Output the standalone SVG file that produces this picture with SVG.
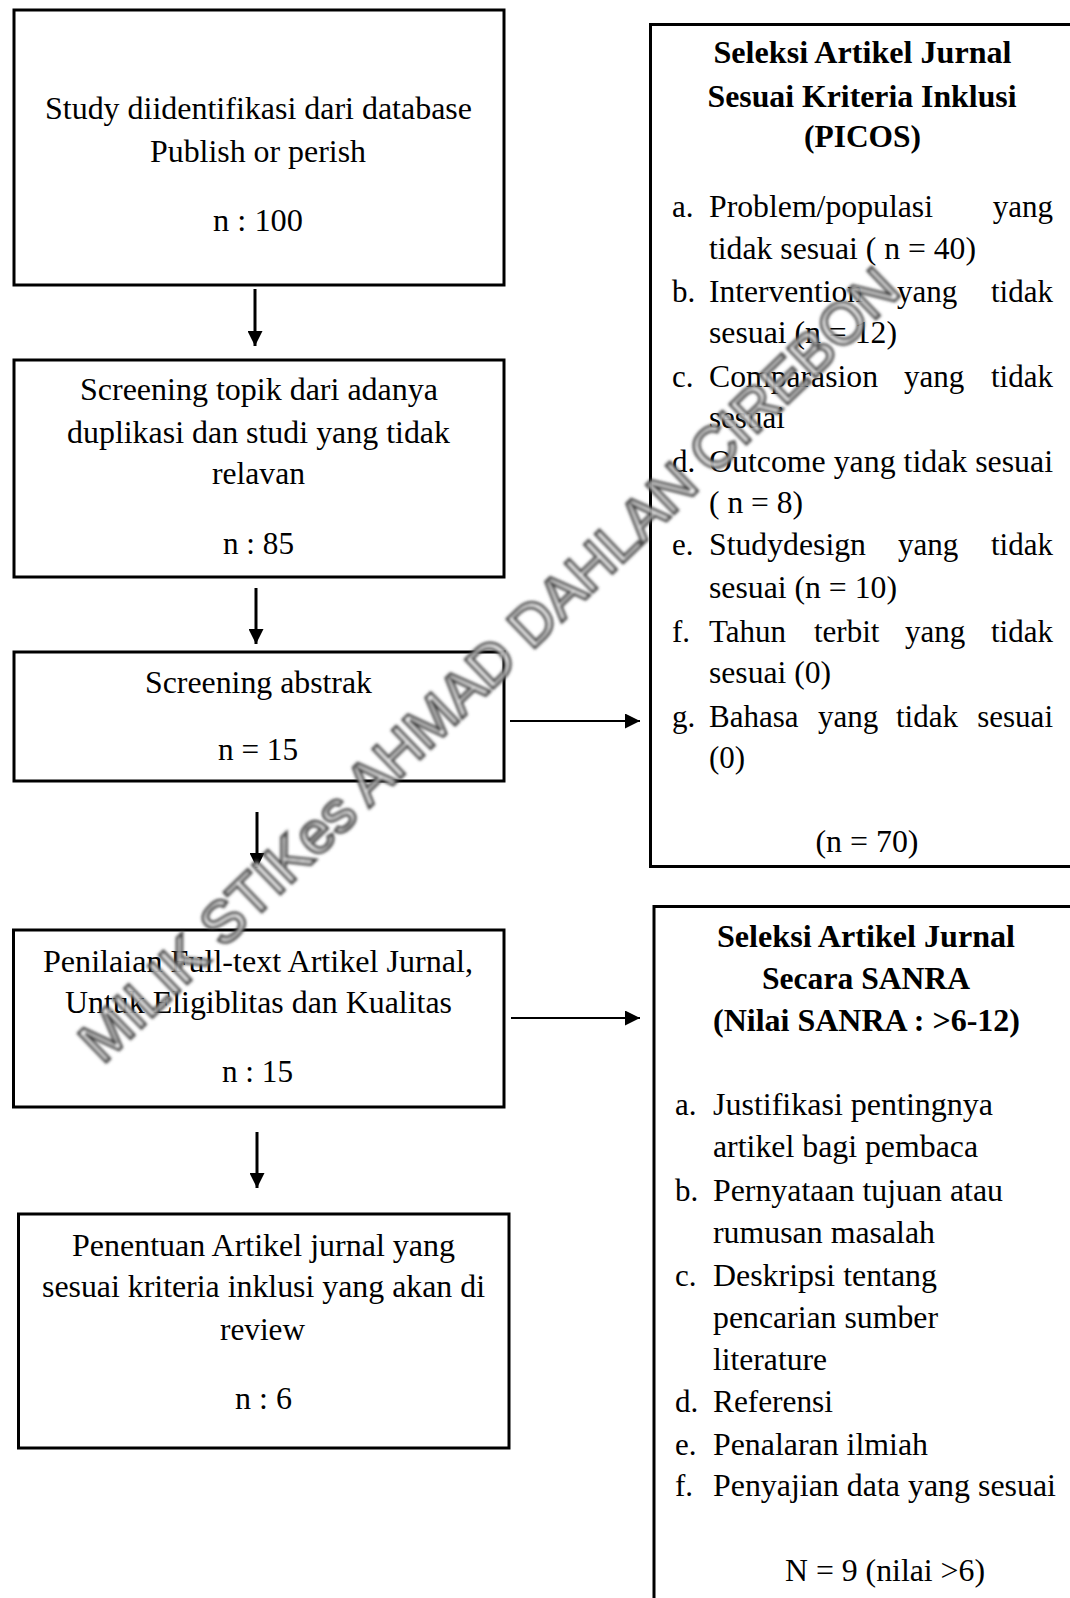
<svg xmlns="http://www.w3.org/2000/svg" width="1070" height="1598" viewBox="0 0 1070 1598">
<style>
.box{fill:#fff;stroke:#000;stroke-width:3}
.t{font-family:"Liberation Serif","Times New Roman",serif;font-size:31px;fill:#000}
.c{text-anchor:middle}
.b{font-weight:bold}
.e{text-anchor:end}
.v{stroke:#000;stroke-width:3;fill:none}
.h{stroke:#000;stroke-width:2;fill:none}
.wm{font-family:"Liberation Sans",Arial,sans-serif;font-size:58px;fill:#fff;fill-opacity:.85;stroke:#444;stroke-width:3;text-anchor:middle}
</style>
<defs>
<marker id="ah" viewBox="0 0 16 16" refX="16" refY="8" markerWidth="16" markerHeight="15" markerUnits="userSpaceOnUse" orient="auto">
<path d="M0,0 L16,8 L0,16 z" fill="#000"/>
</marker>
<filter id="blur" x="-5%" y="-5%" width="110%" height="110%"><feGaussianBlur stdDeviation="1.4"/></filter>
</defs>
<rect width="1070" height="1598" fill="#fff"/>

<g id="node-identifikasi">
<rect class="box" x="14" y="10" width="490" height="275"/>
<text class="t c" x="258.5" y="119" textLength="427" lengthAdjust="spacingAndGlyphs">Study diidentifikasi dari database</text>
<text class="t c" x="258" y="162" textLength="216" lengthAdjust="spacingAndGlyphs">Publish or perish</text>
<text class="t c" x="258" y="231" textLength="90" lengthAdjust="spacingAndGlyphs">n : 100</text>
</g>

<g id="node-screening-topik">
<rect class="box" x="14" y="360" width="490" height="217"/>
<text class="t c" x="259" y="400" textLength="358" lengthAdjust="spacingAndGlyphs">Screening topik dari adanya</text>
<text class="t c" x="258.5" y="443" textLength="383" lengthAdjust="spacingAndGlyphs">duplikasi dan studi yang tidak</text>
<text class="t c" x="258.5" y="484" textLength="93" lengthAdjust="spacingAndGlyphs">relavan</text>
<text class="t c" x="258.5" y="554" textLength="71" lengthAdjust="spacingAndGlyphs">n : 85</text>
</g>

<g id="node-screening-abstrak">
<rect class="box" x="14" y="652" width="490" height="129"/>
<text class="t c" x="258.5" y="693" textLength="227" lengthAdjust="spacingAndGlyphs">Screening abstrak</text>
<text class="t c" x="258" y="760" textLength="80" lengthAdjust="spacingAndGlyphs">n = 15</text>
</g>

<g id="node-fulltext">
<rect class="box" x="13.5" y="930" width="490.5" height="177"/>
<text class="t c" x="258" y="972" textLength="430" lengthAdjust="spacingAndGlyphs">Penilaian Full-text Artikel Jurnal,</text>
<text class="t c" x="258.5" y="1013" textLength="387" lengthAdjust="spacingAndGlyphs">Untuk Eligiblitas dan Kualitas</text>
<text class="t c" x="257.5" y="1082" textLength="71" lengthAdjust="spacingAndGlyphs">n : 15</text>
</g>

<g id="node-penentuan">
<rect class="box" x="18.5" y="1214" width="490.5" height="234"/>
<text class="t c" x="263.5" y="1256" textLength="383" lengthAdjust="spacingAndGlyphs">Penentuan Artikel jurnal yang</text>
<text class="t c" x="263.5" y="1297" textLength="443" lengthAdjust="spacingAndGlyphs">sesuai kriteria inklusi yang akan di</text>
<text class="t c" x="262.5" y="1340" textLength="85" lengthAdjust="spacingAndGlyphs">review</text>
<text class="t c" x="263.5" y="1409" textLength="57" lengthAdjust="spacingAndGlyphs">n : 6</text>
</g>

<g id="node-picos">
<rect class="box" x="650.5" y="24.5" width="440" height="842"/>
<text class="t c b" x="862.5" y="63" textLength="298" lengthAdjust="spacingAndGlyphs">Seleksi Artikel Jurnal</text>
<text class="t c b" x="862" y="107" textLength="309" lengthAdjust="spacingAndGlyphs">Sesuai Kriteria Inklusi</text>
<text class="t c b" x="862.5" y="147" textLength="117" lengthAdjust="spacingAndGlyphs">(PICOS)</text>
<text class="t" x="672" y="217">a.</text>
<text class="t" x="709" y="217" textLength="224" lengthAdjust="spacingAndGlyphs">Problem/populasi</text>
<text class="t e" x="1053" y="217">yang</text>
<text class="t" x="709" y="259" textLength="267" lengthAdjust="spacingAndGlyphs">tidak sesuai ( n = 40)</text>
<text class="t" x="672" y="302">b.</text>
<text class="t" x="709" y="302" textLength="154" lengthAdjust="spacingAndGlyphs">Intervention</text>
<text class="t" x="897" y="302">yang</text>
<text class="t e" x="1053" y="302">tidak</text>
<text class="t" x="709" y="343" textLength="188" lengthAdjust="spacingAndGlyphs">sesuai (n = 12)</text>
<text class="t" x="672" y="387">c.</text>
<text class="t" x="709" y="387" textLength="169" lengthAdjust="spacingAndGlyphs">Comparasion</text>
<text class="t" x="904" y="387">yang</text>
<text class="t e" x="1053" y="387">tidak</text>
<text class="t" x="709" y="428">sesuai</text>
<text class="t" x="672" y="472">d.</text>
<text class="t" x="709" y="472" textLength="344" lengthAdjust="spacingAndGlyphs">Outcome yang tidak sesuai</text>
<text class="t" x="709" y="513" textLength="94" lengthAdjust="spacingAndGlyphs">( n = 8)</text>
<text class="t" x="672" y="555">e.</text>
<text class="t" x="709" y="555" textLength="157" lengthAdjust="spacingAndGlyphs">Studydesign</text>
<text class="t" x="898" y="555">yang</text>
<text class="t e" x="1053" y="555">tidak</text>
<text class="t" x="709" y="598" textLength="188" lengthAdjust="spacingAndGlyphs">sesuai (n = 10)</text>
<text class="t" x="672" y="642">f.</text>
<text class="t" x="709" y="642">Tahun</text>
<text class="t" x="814" y="642">terbit</text>
<text class="t" x="905" y="642">yang</text>
<text class="t e" x="1053" y="642">tidak</text>
<text class="t" x="709" y="683" textLength="122" lengthAdjust="spacingAndGlyphs">sesuai (0)</text>
<text class="t" x="672" y="727">g.</text>
<text class="t" x="709" y="727">Bahasa</text>
<text class="t" x="818" y="727">yang</text>
<text class="t" x="896" y="727">tidak</text>
<text class="t e" x="1053" y="727">sesuai</text>
<text class="t" x="709" y="768">(0)</text>
<text class="t c" x="867" y="852" textLength="103" lengthAdjust="spacingAndGlyphs">(n = 70)</text>
</g>

<g id="node-sanra">
<rect class="box" x="654" y="906.5" width="440" height="720"/>
<text class="t c b" x="866" y="947" textLength="298" lengthAdjust="spacingAndGlyphs">Seleksi Artikel Jurnal</text>
<text class="t c b" x="866" y="989" textLength="208" lengthAdjust="spacingAndGlyphs">Secara SANRA</text>
<text class="t c b" x="866.5" y="1031" textLength="307" lengthAdjust="spacingAndGlyphs">(Nilai SANRA : &gt;6-12)</text>
<text class="t" x="675" y="1115">a.</text>
<text class="t" x="713" y="1115" textLength="280" lengthAdjust="spacingAndGlyphs">Justifikasi pentingnya</text>
<text class="t" x="713" y="1157" textLength="265" lengthAdjust="spacingAndGlyphs">artikel bagi pembaca</text>
<text class="t" x="675" y="1201">b.</text>
<text class="t" x="713" y="1201" textLength="290" lengthAdjust="spacingAndGlyphs">Pernyataan tujuan atau</text>
<text class="t" x="713" y="1243" textLength="222" lengthAdjust="spacingAndGlyphs">rumusan masalah</text>
<text class="t" x="675" y="1286">c.</text>
<text class="t" x="713" y="1286" textLength="224" lengthAdjust="spacingAndGlyphs">Deskripsi tentang</text>
<text class="t" x="713" y="1328" textLength="225" lengthAdjust="spacingAndGlyphs">pencarian sumber</text>
<text class="t" x="713" y="1370" textLength="114" lengthAdjust="spacingAndGlyphs">literature</text>
<text class="t" x="675" y="1412">d.</text>
<text class="t" x="713" y="1412" textLength="120" lengthAdjust="spacingAndGlyphs">Referensi</text>
<text class="t" x="675" y="1455">e.</text>
<text class="t" x="713" y="1455" textLength="215" lengthAdjust="spacingAndGlyphs">Penalaran ilmiah</text>
<text class="t" x="675" y="1496">f.</text>
<text class="t" x="713" y="1496" textLength="343" lengthAdjust="spacingAndGlyphs">Penyajian data yang sesuai</text>
<text class="t c" x="885" y="1581" textLength="200" lengthAdjust="spacingAndGlyphs">N = 9 (nilai &gt;6)</text>
</g>

<g id="connectors">
<line class="v" x1="255" y1="289" x2="255" y2="346" marker-end="url(#ah)"/>
<line class="v" x1="256" y1="588" x2="256" y2="644" marker-end="url(#ah)"/>
<line class="v" x1="257" y1="812" x2="257" y2="868" marker-end="url(#ah)"/>
<line class="v" x1="257" y1="1132" x2="257" y2="1188" marker-end="url(#ah)"/>
<line class="h" x1="510" y1="721" x2="640" y2="721" marker-end="url(#ah)"/>
<line class="h" x1="511" y1="1018" x2="640" y2="1018" marker-end="url(#ah)"/>
</g>

<g id="watermark" filter="url(#blur)">
<text class="wm" x="0" y="21" transform="translate(488,664) rotate(-44)">MILIK STIKes AHMAD DAHLAN CIREBON</text>
</g>
</svg>
